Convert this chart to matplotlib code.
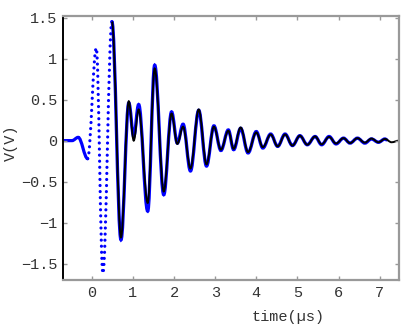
import matplotlib
matplotlib.use("Agg")
import matplotlib.pyplot as plt
from matplotlib.path import Path
from matplotlib.patches import PathPatch
from matplotlib.ticker import FuncFormatter

meas_t = [-0.70, -0.48, -0.33, -0.10, 0.11, 0.27, 0.49, 0.71, 0.90, 1.02, 1.14,
          1.36, 1.53, 1.75, 1.94, 2.08, 2.22, 2.40, 2.60, 2.79, 2.97, 3.14,
          3.32, 3.45, 3.62, 3.80, 4.00, 4.16, 4.35, 4.52, 4.70, 4.88, 5.06,
          5.24, 5.43, 5.59, 5.77, 5.94, 6.12, 6.28, 6.46, 6.64, 6.80, 6.97,
          7.13, 7.17]
meas_v = [0.0, 0.0, 0.04, -0.22, 1.13, -1.62, 1.45, -1.21, 0.46, 0.05, 0.44,
          -0.86, 0.92, -0.66, 0.35, -0.03, 0.20, -0.37, 0.37, -0.31, 0.18, -0.12,
          0.13, -0.11, 0.15, -0.15, 0.11, -0.09, 0.08, -0.07, 0.08, -0.06, 0.06,
          -0.05, 0.05, -0.05, 0.05, -0.04, 0.03, -0.03, 0.03, -0.03, 0.02, -0.02,
          0.02, 0.01]

# fitted curve, turning points
fit_t = [0.49, 0.71, 0.90, 1.02, 1.14, 1.36, 1.53, 1.75, 1.94, 2.08, 2.22,
         2.40, 2.60, 2.79, 2.97, 3.14, 3.32, 3.45, 3.62, 3.80, 4.00, 4.16,
         4.35, 4.52, 4.70, 4.88, 5.06, 5.24, 5.43, 5.59, 5.77, 5.94, 6.12,
         6.28, 6.46, 6.64, 6.80, 6.97, 7.13, 7.29, 7.47]
fit_v = [1.45, -1.18, 0.48, 0.0, 0.38, -0.76, 0.88, -0.62, 0.33, -0.04, 0.17,
         -0.34, 0.38, -0.29, 0.17, -0.11, 0.12, -0.10, 0.16, -0.14, 0.10, -0.08,
         0.075, -0.07, 0.075, -0.06, 0.06, -0.05, 0.05, -0.045, 0.045, -0.035, 0.03,
         -0.03, 0.03, -0.025, 0.025, -0.02, 0.02, -0.02, 0.0]

xticks = [0, 1, 2, 3, 4, 5, 6, 7]
yticks = [-1.5, -1, -0.5, 0, 0.5, 1, 1.5]


def smooth_path(t, v, k=0.36):
    # bezier through turning points, flat tangent at each one
    verts = [(t[0], v[0])]
    codes = [Path.MOVETO]
    for i in range(1, len(t)):
        dt = t[i] - t[i - 1]
        verts += [(t[i - 1] + k * dt, v[i - 1]), (t[i] - k * dt, v[i]), (t[i], v[i])]
        codes += [Path.CURVE4] * 3
    return Path(verts, codes)


plt.rcParams['font.family'] = ['Liberation Mono', 'DejaVu Sans Mono']

fig = plt.figure(figsize=(4.08, 3.24), dpi=100)
ax = fig.add_axes([0.1544, 0.1358, 0.8235, 0.8148])

# slow parts as a band, fast part as loose dots
i0 = meas_t.index(-0.10)
i1 = meas_t.index(0.49)
ax.add_patch(PathPatch(smooth_path(meas_t[:i0 + 1], meas_v[:i0 + 1]), fill=False,
                       ec='#0000ff', lw=2.3, capstyle='round'))
ax.add_patch(PathPatch(smooth_path(meas_t[i1:], meas_v[i1:]), fill=False,
                       ec='#0000ff', lw=2.4, capstyle='round'))
ax.add_patch(PathPatch(smooth_path(meas_t[i0:i1 + 1], meas_v[i0:i1 + 1]), fill=False,
                       ec='#0000ff', lw=2.3, capstyle='round',
                       linestyle=(0, (0.001, 1.9))))
ax.add_patch(PathPatch(smooth_path(fit_t, fit_v), fill=False, ec='black', lw=1.4))

ax.set_xlim(-0.7, 7.47)
ax.set_ylim(-1.7, 1.52)
ax.set_xticks(xticks)
ax.set_yticks(yticks)
fmt = FuncFormatter(lambda v, p: ('%g' % v).replace('-', '\u2212'))
ax.xaxis.set_major_formatter(fmt)
ax.yaxis.set_major_formatter(fmt)
ax.tick_params(direction='in', length=3, width=1, color='#999999',
               top=True, right=True, labelsize=11, labelcolor='#333333', pad=4)

for s in ['top', 'right', 'bottom']:
    ax.spines[s].set_color('#999999')
    ax.spines[s].set_linewidth(1.6)
ax.spines['left'].set_color('black')
ax.spines['left'].set_linewidth(1.4)

ax.set_xlabel('time(\u00b5s)', fontsize=11, color='#333333')
ax.set_ylabel('V(V)', fontsize=11, color='#333333')
ax.xaxis.set_label_coords(0.67, -0.115)
ax.yaxis.set_label_coords(-0.135, 0.52)

fig.savefig('out.png', dpi=100, facecolor='white')
